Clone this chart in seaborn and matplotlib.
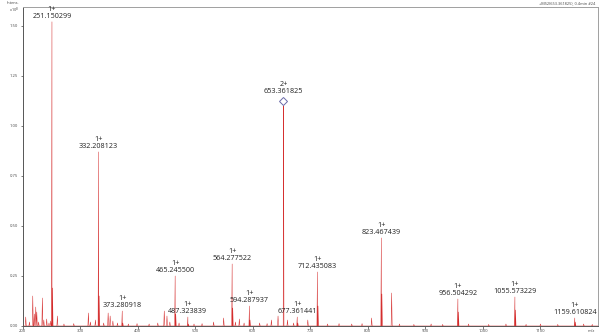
import numpy as np
import pandas as pd
import matplotlib
matplotlib.use("Agg")
import matplotlib.pyplot as plt
import seaborn as sns
from matplotlib.ticker import MultipleLocator

# ---------------- data (intensity in units of 1e8) ----------------
label_mz = [251.150299, 332.208123, 373.280918, 465.245500, 487.323839,
            564.277522, 594.287937, 653.361825, 677.361441, 712.435083,
            823.467439, 956.504292, 1055.573229, 1159.610824]
label_txt = ["251.150299", "332.208123", "373.280918", "465.245500", "487.323839",
             "564.277522", "594.287937", "653.361825", "677.361441", "712.435083",
             "823.467439", "956.504292", "1055.573229", "1159.610824"]
label_z = [1, 1, 1, 1, 1, 1, 1, 2, 1, 1, 1, 1, 1, 1]
label_h = [1.52, 0.87, 0.075, 0.25, 0.045, 0.31, 0.10, 1.10, 0.045, 0.27,
           0.44, 0.135, 0.145, 0.04]
iso_h = [0.19, 0.15, 0.015, 0.06, 0.01, 0.09, 0.03, 0.72, 0.015, 0.10,
         0.16, 0.07, 0.08, 0.02]

minor_mz = [205.6, 212, 217.8, 220.5, 223, 224.8, 228, 234.5, 237, 242, 246, 249,
            260.6, 272, 289, 314.5, 318, 326.7, 341, 348.8, 352.3, 357, 365, 384,
            399, 420, 435, 446.3, 451, 456, 472, 498, 512, 532, 549.5, 570, 576.8,
            585, 612, 625, 632.5, 644, 660.4, 671, 695.7, 730, 750, 772, 790, 806.6,
            841.4, 855, 880, 910, 930, 975, 1010, 1040, 1075, 1100, 1130, 1175, 1190]
minor_h = [0.045, 0.02, 0.15, 0.06, 0.095, 0.07, 0.02, 0.14, 0.03, 0.035, 0.015, 0.025,
           0.05, 0.01, 0.012, 0.065, 0.02, 0.03, 0.015, 0.065, 0.05, 0.025, 0.015, 0.01,
           0.012, 0.01, 0.015, 0.075, 0.05, 0.02, 0.015, 0.01, 0.012, 0.02, 0.04, 0.02, 0.035,
           0.015, 0.015, 0.012, 0.03, 0.05, 0.03, 0.015, 0.03, 0.01, 0.012, 0.01, 0.012, 0.04,
           0.165, 0.01, 0.008, 0.01, 0.008, 0.01, 0.008, 0.01, 0.008, 0.01, 0.008, 0.01, 0.008]

x_ticks = [200, 300, 400, 500, 600, 700, 800, 900, 1000, 1100]
y_ticks = [0.00, 0.25, 0.50, 0.75, 1.00, 1.25, 1.50]

# ---------------- build profile ----------------
peaks_mz = list(label_mz) + [m + 1.0 / z for m, z in zip(label_mz, label_z)] + list(minor_mz)
peaks_h = list(label_h) + list(iso_h) + list(minor_h)
hw = 0.9
rows = []
for m, h in zip(peaks_mz, peaks_h):
    rows.append((m - hw, 0.0))
    rows.append((m, h))
    rows.append((m + hw, 0.0))
rows = sorted(rows, key=lambda r: r[0])
rows = [(200.0, 0.0)] + rows + [(1200.0, 0.0)]
df = pd.DataFrame(rows, columns=["mz", "I"])

# ---------------- figure ----------------
sns.set_theme(style="white")
plt.rcParams['font.family'] = ['Open Sans', 'DejaVu Sans']
fig = plt.figure(figsize=(6.02, 3.36), dpi=100)
ax = fig.add_axes([0.0374, 0.0298, 0.9560, 0.9494])

red = "#d42a2a"
sns.lineplot(data=df, x="mz", y="I", sort=False, estimator=None, ax=ax,
             color=red, linewidth=0.35, zorder=3)
# baseline trace
ax.axhline(0.002, color=red, linewidth=0.7, zorder=3)

ax.set_xlim(200, 1200)
ax.set_ylim(0, 1.594)
ax.set_xlabel("")
ax.set_ylabel("")

ax.set_xticks(x_ticks)
ax.set_yticks(y_ticks)
ax.set_xticklabels([str(t) for t in x_ticks])
ax.set_yticklabels([f"{t:.2f}" for t in y_ticks])
ax.xaxis.set_minor_locator(MultipleLocator(20))
ax.yaxis.set_minor_locator(MultipleLocator(0.05))
ax.tick_params(axis="both", which="major", labelsize=3.0, length=1.8, width=0.5,
               colors="#444444", pad=0.6, direction="out")
ax.tick_params(axis="y", which="major", pad=1.5)
ax.tick_params(axis="both", which="minor", length=1.1, width=0.4,
               colors="#444444", direction="out")
ax.tick_params(left=True, bottom=True)

for s in ["left", "bottom"]:
    ax.spines[s].set_color("#555555")
    ax.spines[s].set_linewidth(0.7)
for s in ["top", "right"]:
    ax.spines[s].set_color("#a0a0a0")
    ax.spines[s].set_linewidth(0.7)

# peak labels
for m, t, z, h in zip(label_mz, label_txt, label_z, label_h):
    off = 7.5 if z == 2 else 1.5
    ax.annotate(f"{z}+\n{t}", xy=(m, h), xytext=(0, off), textcoords="offset points",
                ha="center", va="bottom", fontsize=5.2, color="#222222",
                linespacing=1.0, zorder=5)
    if z == 2:
        ax.plot([m], [h], marker="D", markersize=4.2, markerfacecolor="white",
                markeredgecolor="#6a6aa8", markeredgewidth=0.7, linestyle="none",
                transform=ax.transData + matplotlib.transforms.ScaledTranslation(0, 3.5 / 72, fig.dpi_scale_trans),
                zorder=6)

# axis annotations
fig.text(19 / 602, 1 - 3.5 / 336, "Intens.", fontsize=2.8, ha="right", va="center", color="#444444")
fig.text(19 / 602, 1 - 10 / 336, r"x10$^8$", fontsize=2.8, ha="right", va="center", color="#444444")
fig.text(595 / 602, 1 - 3.5 / 336, "+MS2(653.361825), 0.4min #24", fontsize=2.8,
         ha="right", va="center", color="#444444")
fig.text(591 / 602, 1 - 331.5 / 336, "m/z", fontsize=3.0, ha="center", va="center", color="#444444")

fig.savefig("out.png", dpi=100)
